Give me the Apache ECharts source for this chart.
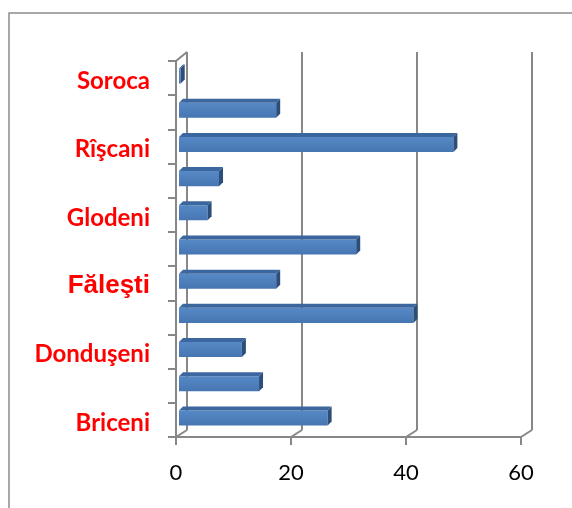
<!DOCTYPE html>
<html lang="ro">
<head>
  <meta charset="UTF-8">
  <title>Raioane</title>
  <script src="https://cdn.jsdelivr.net/npm/echarts@6"></script>
  <style>
    html, body, #main { margin: 0; padding: 0; width: 572px; height: 508px; background: #fff; }
  </style>
</head>
<body>
  <div id="main"></div>
  <script>
    // date: de jos in sus
    const categories = ['Briceni', 'Drochia', 'Donduşeni', 'Edineţ', 'Făleşti', 'Floreşti',
                        'Glodeni', 'Ocniţa', 'Rîşcani', 'Sîngerei', 'Soroca'];
    const values = [26, 14, 11, 41, 17, 31, 5, 7, 48, 17, 0.3];
    const xTicks = [0, 20, 40, 60];

    const W = 572, H = 508;
    const FRONT = { left: 176, right: 51, top: 61, bottom: 71 };  // planul din fata (axe)
    const BACK = { left: 187, right: 40, top: 52, bottom: 78 };   // peretele din spate (grila)
    const BARS = { left: 179, right: 50, top: 59, bottom: 73 };   // barele la mijloc
    const GRAY = '#878787';

    const chart = echarts.init(document.getElementById('main'));

    function renderBar(params, api) {
      const i = api.value(0);
      const v = api.value(1);
      const p0 = api.coord([0, i]);
      const p1 = api.coord([v, i]);
      const h = api.size([0, 1])[1] * 0.44;
      const d = 4;
      const x0 = p0[0], x1 = p1[0];
      const yt = p0[1] - h / 2, yb = p0[1] + h / 2;
      return {
        type: 'group',
        children: [
          {
            type: 'rect',
            shape: { x: x0, y: yt, width: x1 - x0, height: h },
            style: {
              fill: new echarts.graphic.LinearGradient(0, 0, 0, 1, [
                { offset: 0, color: '#5689c6' },
                { offset: 1, color: '#4676b2' }
              ])
            }
          },
          {
            type: 'polygon',
            shape: { points: [[x0, yt], [x0 + d, yt - d], [x1 + d, yt - d], [x1, yt]] },
            style: { fill: '#3c679e' }
          },
          {
            type: 'polygon',
            shape: { points: [[x1, yt], [x1 + d, yt - d], [x1 + d, yb - d], [x1, yb]] },
            style: { fill: '#2c4e7a' }
          }
        ]
      };
    }

    chart.setOption({
      animation: false,
      grid: [
        { left: BACK.left, right: BACK.right, top: BACK.top, bottom: BACK.bottom },
        { left: FRONT.left, right: FRONT.right, top: FRONT.top, bottom: FRONT.bottom },
        { left: BARS.left, right: BARS.right, top: BARS.top, bottom: BARS.bottom }
      ],
      xAxis: [
        {
          gridIndex: 0, type: 'value', min: 0, max: 60, interval: 20,
          axisLine: { show: false }, axisTick: { show: false }, axisLabel: { show: false },
          splitLine: { show: true, lineStyle: { color: GRAY, width: 2 } }
        },
        {
          gridIndex: 1, type: 'value', min: 0, max: 60, interval: 20,
          axisLine: { show: true, lineStyle: { color: GRAY, width: 2 } },
          axisTick: { show: true, length: 8, lineStyle: { color: GRAY, width: 2 } },
          axisLabel: {
            color: '#000', fontFamily: 'Lato', fontSize: 22, margin: 25,
            formatter: v => xTicks.includes(v) ? String(v) : ''
          },
          splitLine: { show: false }
        },
        {
          gridIndex: 2, type: 'value', min: 0, max: 60, show: false
        }
      ],
      yAxis: [
        { gridIndex: 0, type: 'category', data: categories, show: false },
        {
          gridIndex: 1, type: 'category', data: categories,
          axisLine: { show: true, lineStyle: { color: GRAY, width: 2 } },
          axisTick: { show: true, interval: 0, length: 8, lineStyle: { color: GRAY, width: 2 } },
          axisLabel: {
            interval: 1, margin: 26,
            formatter: v => v === 'Făleşti' ? '{f|' + v + '}' : '{c|' + v + '}',
            rich: {
              c: { color: '#ff0000', fontFamily: 'Lato', fontWeight: 'bold', fontSize: 24, padding: [6, 0, 0, 0] },
              f: { color: '#ff0000', fontFamily: 'Liberation Sans', fontWeight: 'bold', fontSize: 26, padding: [6, 0, 0, 0] }
            }
          },
          splitLine: { show: false }
        },
        { gridIndex: 2, type: 'category', data: categories, show: false }
      ],
      series: [
        {
          type: 'custom',
          xAxisIndex: 2,
          yAxisIndex: 2,
          renderItem: renderBar,
          encode: { x: 1, y: 0 },
          data: values.map((v, i) => [i, v])
        }
      ]
    });

    // linii oblice intre planul din fata si peretele din spate
    const yFront = H - FRONT.bottom, yBack = H - BACK.bottom;
    const slants = xTicks.map(v => {
      const fx = chart.convertToPixel({ xAxisIndex: 1 }, v);
      const bx = chart.convertToPixel({ xAxisIndex: 0 }, v);
      return {
        type: 'line',
        shape: { x1: fx, y1: yFront, x2: bx, y2: yBack },
        style: { stroke: GRAY, lineWidth: 2 }
      };
    });
    slants.push({
      type: 'line',
      shape: { x1: FRONT.left, y1: FRONT.top, x2: BACK.left, y2: BACK.top },
      style: { stroke: GRAY, lineWidth: 2 }
    });
    slants.push({
      type: 'rect',
      shape: { x: 9, y: 13, width: 700, height: 700 },
      style: { fill: 'none', stroke: '#8c8c8c', lineWidth: 1.5 }
    });

    chart.setOption({ graphic: slants });
  </script>
</body>
</html>
